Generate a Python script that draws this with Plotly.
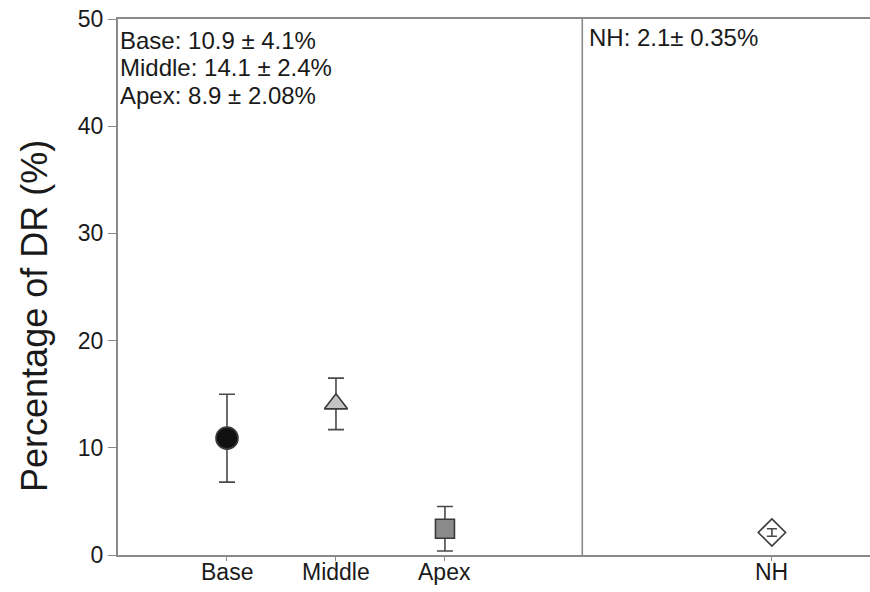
import plotly.graph_objects as go

# Regional DR percentages (mean ± SD)
groups = ["Base", "Middle", "Apex", "NH"]
group_pos = [1, 2, 3, 6]
means = [10.9, 14.1, 2.45, 2.1]
sds = [4.1, 2.4, 2.08, 0.35]

symbols = ["circle", "triangle-up", "square", "diamond"]
fills = ["#111111", "#c4c4c4", "#8a8a8a", "rgba(255,255,255,0)"]
sizes = [22, 20, 19, 21]

summary_left = ["Base: 10.9 ± 4.1%", "Middle: 14.1 ± 2.4%", "Apex: 8.9 ± 2.08%"]
summary_left_y = [48.0, 45.5, 42.9]
summary_right = "NH: 2.1± 0.35%"

y_ticks = [0, 10, 20, 30, 40, 50]
divider_x = 4.26

axis_grey = "#8a8a8a"
text_col = "#1a1a1a"
font_family = "Liberation Sans, Arial, sans-serif"

fig = go.Figure()
for i in range(len(groups)):
    fig.add_trace(go.Scatter(
        x=[group_pos[i]], y=[means[i]], mode="markers",
        marker=dict(symbol=symbols[i], size=sizes[i], color=fills[i],
                    line=dict(color="#3a3a3a", width=1.6)),
        error_y=dict(type="data", array=[sds[i]], visible=True,
                     color="#4a4a4a", thickness=1.6, width=8 if i < 3 else 5),
        showlegend=False,
    ))

# divider between regions and NH
fig.add_shape(type="line", xref="x", yref="y", x0=divider_x, x1=divider_x,
              y0=0, y1=50, line=dict(color=axis_grey, width=1.6))

for line, yv in zip(summary_left, summary_left_y):
    fig.add_annotation(xref="x", yref="y", x=0.0, y=yv, xanchor="left",
                       yanchor="middle", text=line, showarrow=False, align="left",
                       font=dict(size=24, color=text_col, family=font_family))
fig.add_annotation(xref="x", yref="y", x=divider_x + 0.04, y=48.3, xanchor="left",
                   yanchor="middle", text=summary_right, showarrow=False, align="left",
                   font=dict(size=24, color=text_col, family=font_family))

# group labels under the x axis, set close to the tick marks
for pos, name in zip(group_pos, groups):
    fig.add_annotation(xref="x", yref="paper", x=pos, y=0, yshift=-17,
                       xanchor="center", yanchor="middle", text=name,
                       showarrow=False,
                       font=dict(size=23, color=text_col, family=font_family))

# y-axis title
fig.add_annotation(xref="paper", yref="paper", x=0, y=0.446, xshift=-83,
                   xanchor="center", yanchor="middle", textangle=-90,
                   text="Percentage of DR (%)", showarrow=False,
                   font=dict(size=36, color=text_col, family=font_family))

fig.update_layout(
    width=870, height=592,
    margin=dict(l=118, r=0, t=19, b=37, autoexpand=False),
    paper_bgcolor="white", plot_bgcolor="white",
    font=dict(family=font_family, color=text_col),
    xaxis=dict(range=[0, 6.9], tickvals=group_pos, showticklabels=False,
               automargin=False,
               showgrid=False, zeroline=False, showline=True, linecolor=axis_grey,
               linewidth=2, mirror=True, ticks="outside", ticklen=4,
               tickcolor=axis_grey),
    yaxis=dict(range=[0, 50], tickvals=y_ticks, showgrid=False, zeroline=False,
               automargin=False,
               showline=True, linecolor=axis_grey, linewidth=2, ticks="outside",
               ticklen=8, tickcolor=axis_grey, tickfont=dict(size=23, color=text_col)),
)

fig.write_html("out.html")
